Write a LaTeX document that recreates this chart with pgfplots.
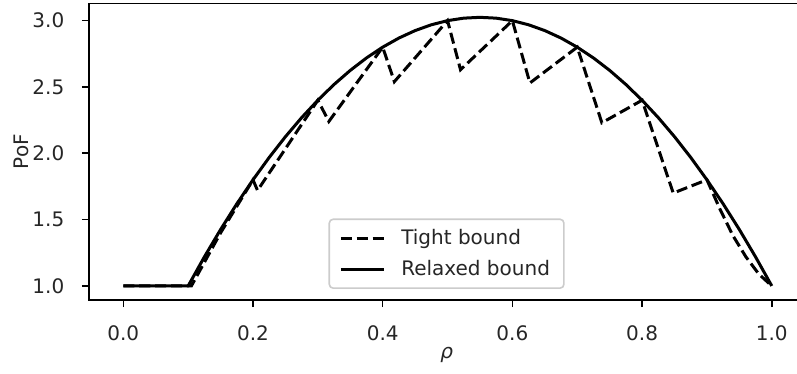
\documentclass[border=0pt]{standalone}
\usepackage{fontspec}
\setmainfont{DejaVu Sans}
\usepackage{pgfplots}
\pgfplotsset{compat=1.18}
\begin{document}
\begin{tikzpicture}
\begin{axis}[
  at={(0,0)}, anchor=south west,
  scale only axis, width=357.6pt, height=148.3pt,
  xmin=-0.0529, xmax=1.05, ymin=0.894, ymax=3.13,
  xtick={0,0.2,0.4,0.6,0.8,1.0},
  ytick={1.0,1.5,2.0,2.5,3.0},
  tick align=outside, tick pos=left,
  major tick length=3.5pt,
  tick style={black, line width=0.8pt},
  axis line style={line width=0.8pt},
  ticklabel style={font=\fontsize{10}{12}\selectfont, text=black!85},
  xticklabel style={anchor=north, inner sep=0pt, yshift=-9pt},
  yticklabel style={anchor=east, inner sep=0pt, xshift=-8.65pt},
  /pgf/number format/fixed, /pgf/number format/fixed zerofill,
  /pgf/number format/precision=1, /pgf/number format/assume math mode=true,
  xlabel={\itshape ρ}, ylabel={PoF},
  label style={font=\fontsize{10}{12}\selectfont, text=black!85},
  xlabel style={at={(axis description cs:0.5,-0.1956)}, anchor=base},
  ylabel style={at={(axis description cs:-0.0847,0.5)}, anchor=base},
  legend style={at={(axis description cs:0.5,0)}, anchor=south, yshift=5.5pt,
    draw=black!20, rounded corners=2pt, fill=white, line width=0.8pt,
    font=\fontsize{10}{12}\selectfont, inner xsep=5pt, inner ysep=3pt,
    row sep=2.3pt, column sep=6pt, nodes={text=black!85}},
  legend cell align=left,
  legend image code/.code={\draw[#1] (0pt,0pt) -- (21.5pt,0pt);},
]
\addplot[black, line width=1.5pt, dash pattern=on 5.55pt off 2.4pt] coordinates {
(0,1) (0.1,1) (0.105,1.0) (0.15,1.40) (0.2,1.8) (0.207,1.72) (0.3,2.4) (0.317,2.24)
(0.4,2.8) (0.418,2.54) (0.5,3.0) (0.52,2.63) (0.6,3.0) (0.627,2.53) (0.7,2.8)
(0.738,2.23) (0.8,2.4) (0.848,1.70) (0.9,1.8) (0.92,1.58) (0.94,1.38) (0.96,1.22)
(0.98,1.09) (1.0,1.0)
};
\addlegendentry{Tight bound}
\addplot[black, line width=1.5pt] coordinates {
(0,1) (0.1,1) (0.125,1.21875) (0.15,1.425) (0.175,1.61875) (0.2,1.8) (0.225,1.96875)
(0.25,2.125) (0.275,2.26875) (0.3,2.4) (0.325,2.51875) (0.35,2.625) (0.375,2.71875)
(0.4,2.8) (0.425,2.86875) (0.45,2.925) (0.475,2.96875) (0.5,3.0) (0.525,3.01875)
(0.55,3.025) (0.575,3.01875) (0.6,3.0) (0.625,2.96875) (0.65,2.925) (0.675,2.86875)
(0.7,2.8) (0.725,2.71875) (0.75,2.625) (0.775,2.51875) (0.8,2.4) (0.825,2.26875)
(0.85,2.125) (0.875,1.96875) (0.9,1.8) (0.925,1.61875) (0.95,1.425) (0.975,1.21875)
(1.0,1.0)
};
\addlegendentry{Relaxed bound}
\end{axis}
\pgfresetboundingbox
\useasboundingbox (-44.5pt,-37pt) rectangle (354pt,150pt);
\end{tikzpicture}
\end{document}
